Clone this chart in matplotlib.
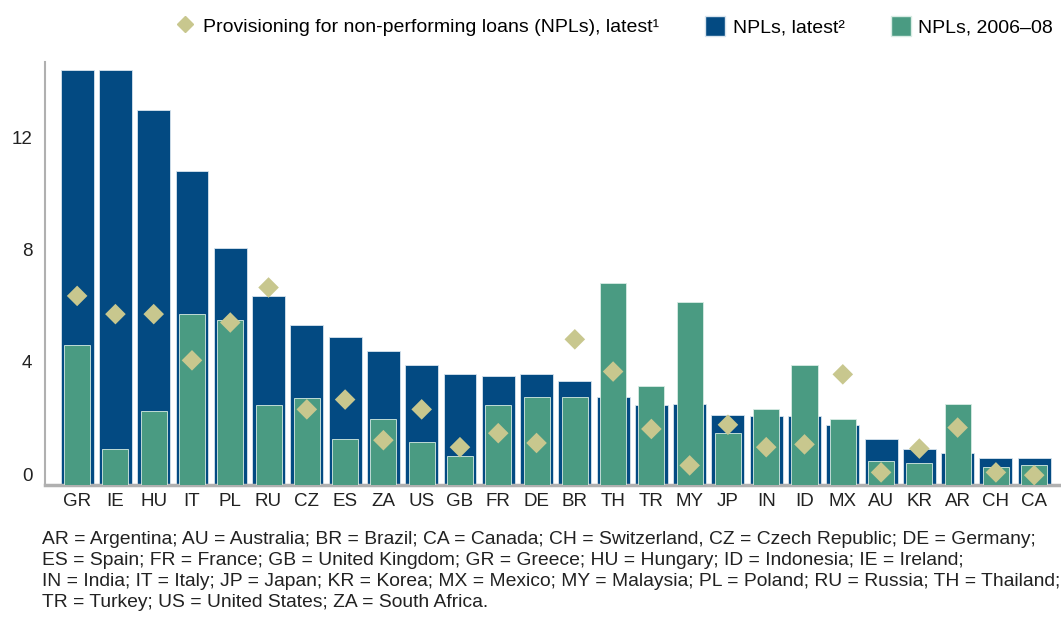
import matplotlib
matplotlib.use("Agg")
import matplotlib.pyplot as plt
import matplotlib.transforms as mtransforms
from matplotlib.lines import Line2D
from matplotlib.patches import Patch
from matplotlib import font_manager

# Data (per cent)
countries = ["GR", "IE", "HU", "IT", "PL", "RU", "CZ", "ES", "ZA", "US", "GB", "FR", "DE",
             "BR", "TH", "TR", "MY", "JP", "IN", "ID", "MX", "AU", "KR", "AR", "CH", "CA"]
npl_latest = [14.8, 14.8, 13.4, 11.2, 8.45, 6.75, 5.7, 5.3, 4.8, 4.3, 3.95, 3.9, 3.95,
              3.7, 3.15, 2.85, 2.9, 2.5, 2.45, 2.45, 2.15, 1.65, 1.3, 1.15, 0.95, 0.95]
npl_2006_08 = [5.0, 1.3, 2.65, 6.1, 5.9, 2.85, 3.1, 1.65, 2.35, 1.55, 1.05, 2.85, 3.15,
               3.15, 7.2, 3.55, 6.55, 1.85, 2.7, 4.3, 2.35, 0.85, 0.8, 2.9, 0.65, 0.7]
provisioning = [6.75, 6.1, 6.1, 4.45, 5.8, 7.05, 2.7, 3.05, 1.6, 2.7, 1.35, 1.85, 1.5,
                5.2, 4.05, 2.0, 0.7, 2.15, 1.35, 1.45, 3.95, 0.45, 1.3, 2.05, 0.45, 0.35]

footnote = ("AR = Argentina; AU = Australia; BR = Brazil; CA = Canada; CH = Switzerland, CZ = Czech Republic; DE = Germany;\n"
            "ES = Spain; FR = France; GB = United Kingdom; GR = Greece; HU = Hungary; ID = Indonesia; IE = Ireland;\n"
            "IN = India; IT = Italy; JP = Japan; KR = Korea; MX = Mexico; MY = Malaysia; PL = Poland; RU = Russia; TH = Thailand;\n"
            "TR = Turkey; US = United States; ZA = South Africa.")

navy = "#034a82"
green = "#4a9b82"
khaki = "#c8c78e"

names = {f.name for f in font_manager.fontManager.ttflist}
narrow = "Liberation Sans Narrow" if "Liberation Sans Narrow" in names else "Liberation Sans"
plt.rcParams["font.family"] = [narrow, "DejaVu Sans"]

fig = plt.figure(figsize=(10.61, 6.23), dpi=100)
ax = fig.add_axes([0.0424, 0.2215, 0.9576, 0.679])

x = list(range(len(countries)))
ax.bar(x, npl_latest, width=0.86, color=navy, edgecolor="#d8e4ee", linewidth=0.6, zorder=2)
ax.bar(x, npl_2006_08, width=0.68, color=green, edgecolor="#d8ece4", linewidth=0.6, zorder=3)
ax.scatter(x, provisioning, marker="D", s=110, color=khaki, edgecolors="none", zorder=4)

ax.set_xlim(-0.84, 25.7)
ax.set_ylim(0, 15.1)
ax.set_yticks([0, 4, 8, 12])
ax.set_xticks(x)
ax.set_xticklabels(countries)
ax.tick_params(axis="both", length=0, labelsize=13.5, colors="#222222")
ax.tick_params(axis="y", pad=9)
ax.tick_params(axis="x", pad=6)
# y labels sit a little above their values in the original
offset = mtransforms.ScaledTranslation(0, 11 / 100, fig.dpi_scale_trans)
for lab in ax.get_yticklabels():
    lab.set_transform(lab.get_transform() + offset)

for side in ["top", "right"]:
    ax.spines[side].set_visible(False)
ax.spines["left"].set_color("#b0b0b0")
ax.spines["left"].set_linewidth(1.5)
ax.spines["bottom"].set_color("#b0b0b0")
ax.spines["bottom"].set_linewidth(2.5)

handles = [
    Line2D([], [], marker="D", linestyle="none", markersize=8, color=khaki,
           label="Provisioning for non-performing loans (NPLs), latest\u00b9"),
    Patch(facecolor=navy, edgecolor="#d8e4ee", label="NPLs, latest\u00b2"),
    Patch(facecolor=green, edgecolor="#d8ece4", label="NPLs, 2006\u201308"),
]
fig.legend(handles=handles, loc="center right", bbox_to_anchor=(1.0, 0.958), ncol=3,
           frameon=False, fontsize=14.0, handlelength=1.0, handleheight=1.2,
           handletextpad=0.4, columnspacing=2.4, borderaxespad=0)

fig.text(0.04, 0.147, footnote, fontsize=13.9, va="top", ha="left", color="#222222",
         linespacing=1.3)

fig.savefig("out.png", dpi=100)
